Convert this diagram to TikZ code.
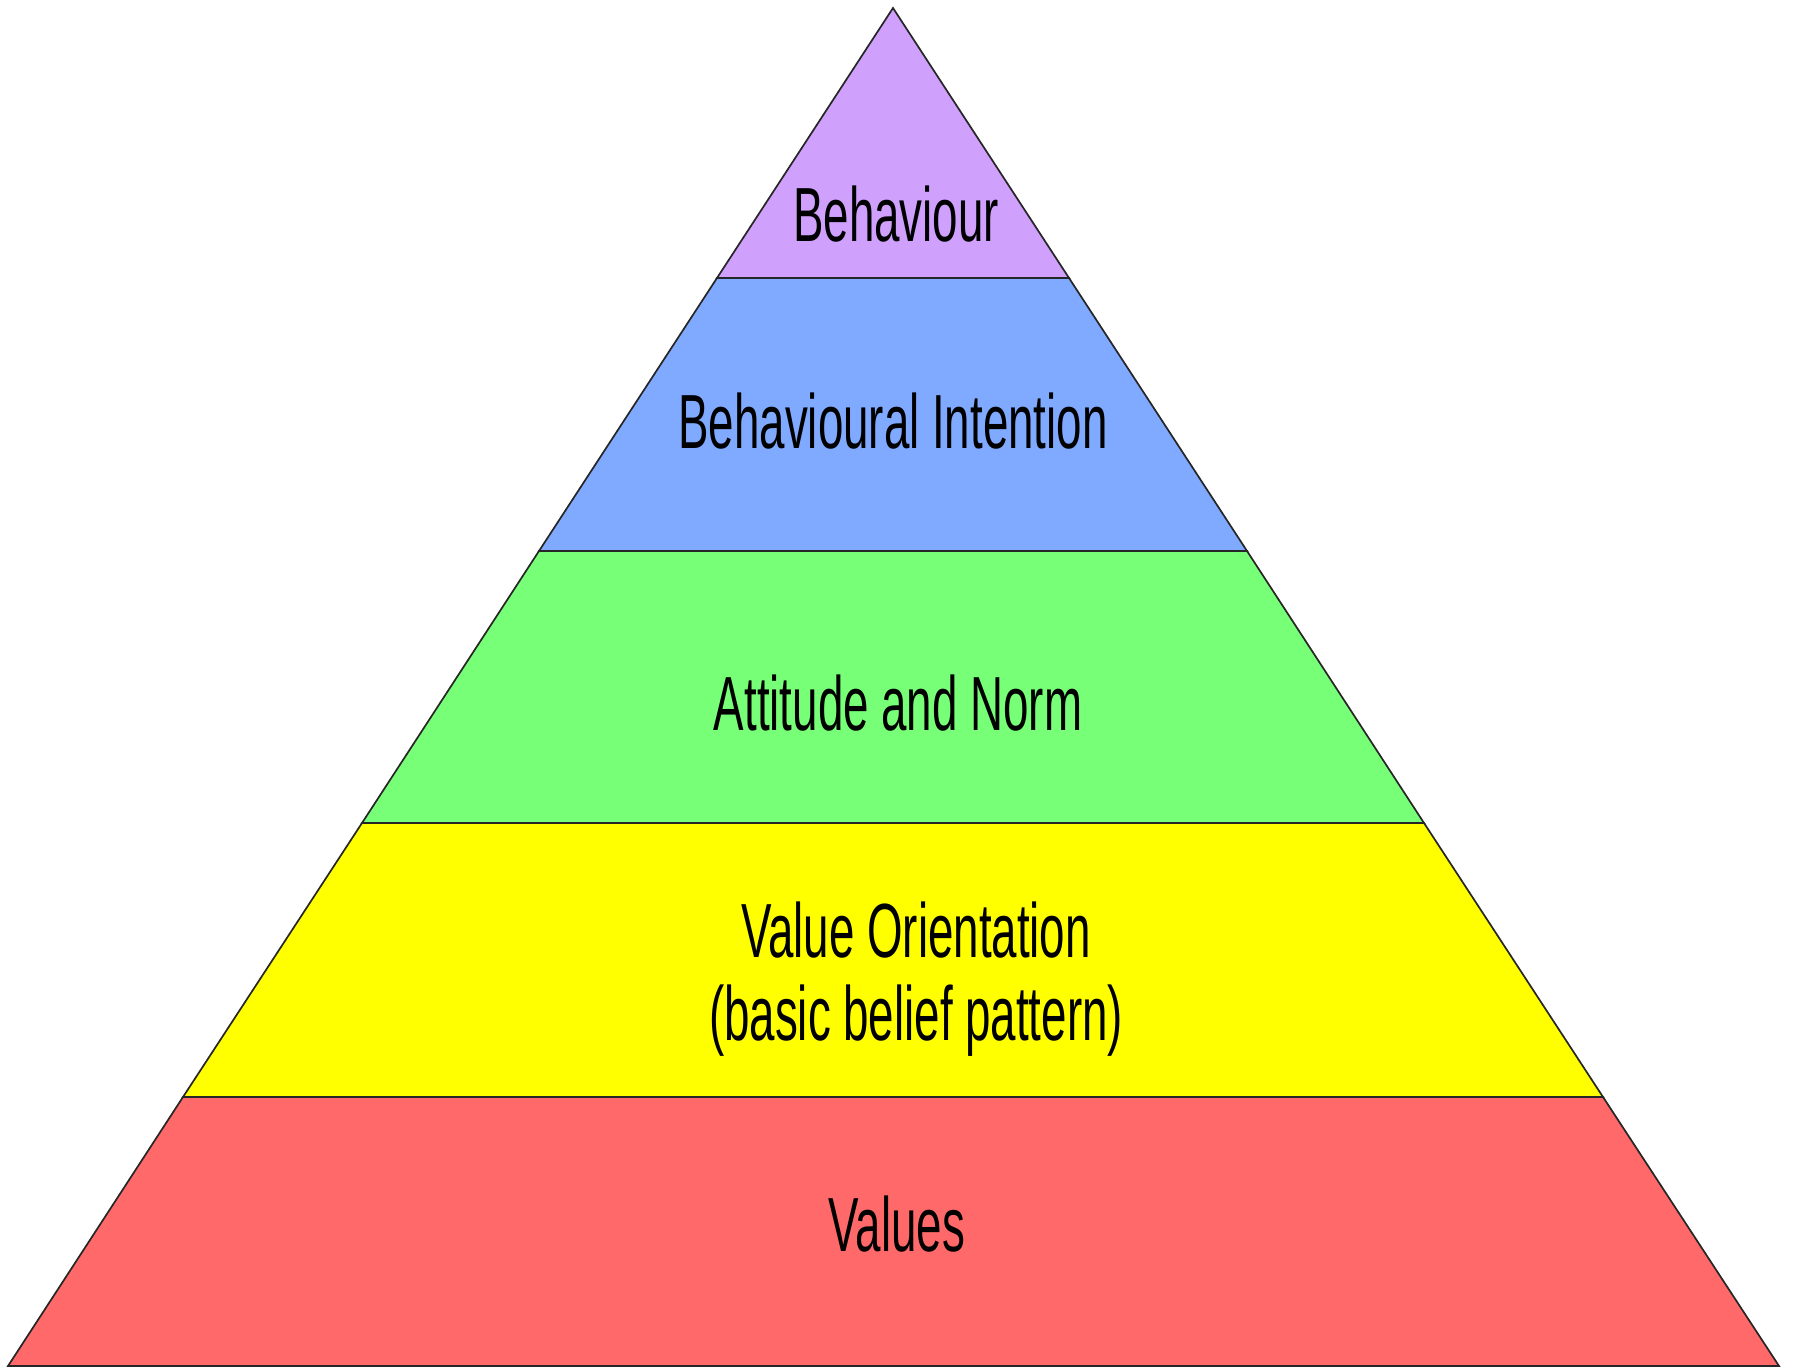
\documentclass[tikz,border=0pt]{standalone}
\usepackage{fontspec}
\newfontfamily\cond[FakeStretch=0.595]{Liberation Sans}
\definecolor{cpurple}{RGB}{207,160,252}
\definecolor{cblue}{RGB}{128,170,255}
\definecolor{cgreen}{RGB}{119,255,119}
\definecolor{cyellow}{RGB}{255,255,0}
\definecolor{cred}{RGB}{255,105,105}
\tikzset{
  band/.style={draw=black!85, line width=0.85pt, line join=miter},
  lbl/.style={font=\cond\fontsize{38.4}{41.5}\selectfont, align=center, inner sep=0pt, text=black}
}
\begin{document}
\begin{tikzpicture}[x=0.5pt,y=-0.5pt]
\useasboundingbox[fill=white] (0,0) rectangle (1793,1370);
% corner points
\coordinate (apex) at (893,8);
\coordinate (l1) at (717,278);  \coordinate (r1) at (1069,278);
\coordinate (l2) at (539,551);  \coordinate (r2) at (1247,551);
\coordinate (l3) at (362,823);  \coordinate (r3) at (1424,823);
\coordinate (l4) at (183,1097); \coordinate (r4) at (1603,1097);
\coordinate (l5) at (8,1366);   \coordinate (r5) at (1779,1366);
% bands
\draw[band, fill=cred]    (l4) -- (r4) -- (r5) -- (l5) -- cycle;
\draw[band, fill=cyellow] (l3) -- (r3) -- (r4) -- (l4) -- cycle;
\draw[band, fill=cgreen]  (l2) -- (r2) -- (r3) -- (l3) -- cycle;
\draw[band, fill=cblue]   (l1) -- (r1) -- (r2) -- (l2) -- cycle;
\draw[band, fill=cpurple] (apex) -- (r1) -- (l1) -- cycle;
% labels
\node[lbl] (behaviour) at (896,214) {Behaviour};
\node[lbl] (intention) at (893,421) {Behavioural Intention};
\node[lbl] (attitude) at (898,703) {Attitude and Norm};
\node[lbl] (orientation) at (916,979) {Value Orientation\\(basic belief pattern)};
\node[lbl] (values) at (897,1224) {Values};
\end{tikzpicture}
\end{document}
